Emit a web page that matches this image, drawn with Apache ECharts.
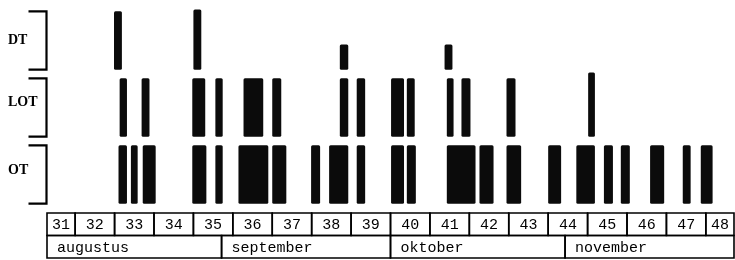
<!DOCTYPE html>
<html><head><meta charset="utf-8">
<script src="https://cdn.jsdelivr.net/npm/echarts@6/dist/echarts.min.js"></script>
<style>html,body{margin:0;padding:0;background:#fff}#c{width:735px;height:260px}</style>
</head><body><div id="c"></div>
<script>
// rows from bottom to top
const rowNames = ['OT', 'LOT', 'DT'];
// bars: [startDay, endDay, relativeHeight], days counted from 1 August
const dtBars = [[11.9, 13.3, 1], [26.0, 27.4, 1.03], [52.0, 53.5, 0.43], [70.6, 72.0, 0.43]];
const lotBars = [
  [12.9, 14.2, 1], [16.8, 18.2, 1], [25.8, 28.1, 1], [29.9, 31.2, 1], [34.9, 38.4, 1],
  [40.0, 41.6, 1], [52.0, 53.5, 1], [55.0, 56.5, 1], [61.1, 63.4, 1], [63.9, 65.3, 1],
  [71.0, 72.2, 1], [73.6, 75.2, 1], [81.6, 83.2, 1], [96.1, 97.3, 1.1]
];
const otBars = [
  [12.7, 14.2, 1], [14.9, 16.1, 1], [17.0, 19.3, 1], [25.8, 28.3, 1], [29.9, 31.2, 1],
  [34.0, 39.3, 1], [40.0, 42.5, 1], [46.9, 48.5, 1], [50.1, 53.5, 1], [55.0, 56.5, 1],
  [61.1, 63.4, 1], [63.9, 65.5, 1], [71.0, 76.1, 1], [76.8, 79.3, 1], [81.6, 84.2, 1],
  [89.0, 91.3, 1], [94.0, 97.3, 1], [98.9, 100.5, 1], [101.9, 103.5, 1], [107.1, 109.6, 1],
  [112.9, 114.3, 1], [116.1, 118.2, 1]
];
const weekLabels = ['31','32','33','34','35','36','37','38','39','40','41','42','43','44','45','46','47','48'];
const weekStarts = [0, 5, 12, 19, 26, 33, 40, 47, 54, 61, 68, 75, 82, 89, 96, 103, 110, 117];
const monthLabels = ['augustus', 'september', 'oktober', 'november'];
const monthStarts = [0, 31, 61, 92];
const endDay = 122;

const BAR_FRAC = 0.87;
const chart = echarts.init(document.getElementById('c'), null, {renderer: 'canvas'});

function toItems(bars, row) { return bars.map(b => [b[0], b[1], b[2], row]); }
function toCells(starts, row) {
  return starts.map((s, i) => [s, i + 1 < starts.length ? starts[i + 1] : endDay, row]);
}

function barItem(params, api) {
  const s = api.value(0), e = api.value(1), h = api.value(2), r = api.value(3);
  const p0 = api.coord([s, r]), p1 = api.coord([e, r]);
  const full = api.size([0, 1])[1] * BAR_FRAC;
  const bottom = p0[1] + full / 2;
  const hh = full * h;
  return {type: 'rect', shape: {x: p0[0], y: bottom - hh, width: p1[0] - p0[0], height: hh, r: 1.5},
    style: {fill: '#0b0b0b'}};
}
function bracketItem(params, api) {
  const r = api.value(1);
  const c = api.coord([api.value(0), r]);
  const full = api.size([0, 1])[1] * BAR_FRAC;
  const x = c[0] - 0.5, t = c[1] - full / 2, b = c[1] + full / 2;
  return {type: 'polyline', shape: {points: [[x - 18, t], [x, t], [x, b], [x - 18, b]]},
    style: {stroke: '#000', lineWidth: 2.2, fill: null}};
}
function cellItem(labels, centered) {
  return function (params, api) {
    const s = api.value(0), e = api.value(1), r = api.value(2);
    const p0 = api.coord([s, r]), p1 = api.coord([e, r]);
    const hg = api.size([0, 1])[1];
    const y0 = p0[1] - hg / 2;
    return {type: 'group', children: [
      {type: 'rect', shape: {x: p0[0], y: y0, width: p1[0] - p0[0], height: hg},
        style: {fill: null, stroke: '#000', lineWidth: 1.6}},
      {type: 'text', style: {text: labels[params.dataIndex],
        x: centered ? (p0[0] + p1[0]) / 2 : p0[0] + 10, y: y0 + hg / 2 + 1,
        align: centered ? 'center' : 'left', verticalAlign: 'middle',
        font: '15px "Liberation Mono"', fill: '#000'}}
    ]};
  };
}

chart.setOption({
  animation: false,
  backgroundColor: '#fff',
  grid: [
    {left: 47, right: 1, top: 7, height: 201},
    {left: 47, right: 1, top: 213, height: 45}
  ],
  xAxis: [
    {gridIndex: 0, type: 'value', min: 0, max: endDay, show: false},
    {gridIndex: 1, type: 'value', min: 0, max: endDay, show: false}
  ],
  yAxis: [
    {gridIndex: 0, type: 'category', data: rowNames,
      axisLine: {show: false}, axisTick: {show: false}, splitLine: {show: false},
      axisLabel: {align: 'left', margin: 39, color: '#000',
        formatter: v => '{' + v + '|' + v + '}',
        rich: {
          DT: {fontFamily: 'Liberation Serif', fontWeight: 'bold', fontSize: 14, color: '#000'},
          LOT: {fontFamily: 'Liberation Serif', fontWeight: 'bold', fontSize: 14, color: '#000', padding: [0, 0, 10, 0]},
          OT: {fontFamily: 'Liberation Serif', fontWeight: 'bold', fontSize: 14, color: '#000', padding: [0, 0, 8, 0]}
        }}},
    {gridIndex: 1, type: 'category', data: ['week', 'maand'], inverse: true, show: false}
  ],
  series: [
    {type: 'custom', xAxisIndex: 0, yAxisIndex: 0, renderItem: barItem,
      data: [].concat(toItems(otBars, 0), toItems(lotBars, 1), toItems(dtBars, 2))},
    {type: 'custom', xAxisIndex: 0, yAxisIndex: 0, renderItem: bracketItem, clip: false,
      data: [[0, 0], [0, 1], [0, 2]]},
    {type: 'custom', xAxisIndex: 1, yAxisIndex: 1, renderItem: cellItem(weekLabels, true), clip: false,
      data: toCells(weekStarts, 0)},
    {type: 'custom', xAxisIndex: 1, yAxisIndex: 1, renderItem: cellItem(monthLabels, false), clip: false,
      data: toCells(monthStarts, 1)}
  ]
});
</script></body></html>
